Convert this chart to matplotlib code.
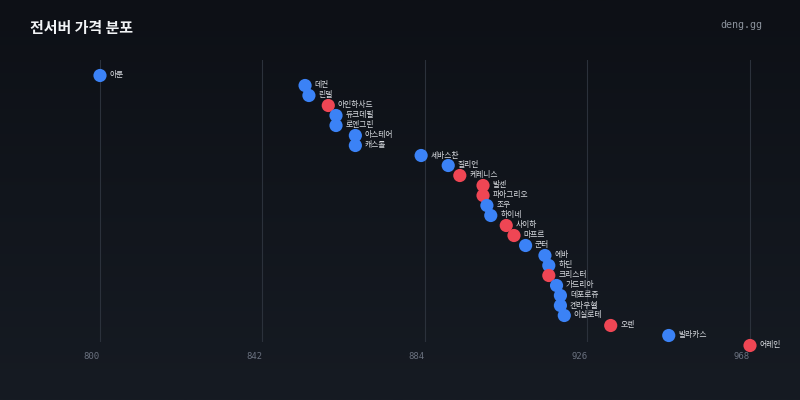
import numpy as np
import matplotlib
matplotlib.use("Agg")
import matplotlib.pyplot as plt

plt.rcParams['font.family'] = ['Noto Sans CJK KR', 'DejaVu Sans']

servers = ["아툰", "데컨", "린델", "아인하사드", "듀크데필", "로엔그린", "아스테어", "캐스톨",
           "세바스찬", "질리언", "케레니스", "발센", "파아그리오", "조우", "하이네", "사이하",
           "마프르", "군터", "에바", "하딘", "크리스터", "가드리아", "데포로쥬", "켄라우헬",
           "이실로테", "오렌", "발라카스", "어레인"]
prices = [800, 853, 854, 859, 861, 861, 866, 866,
          883, 890, 893, 899, 899, 900, 901, 905,
          907, 910, 915, 916, 916, 918, 919, 919,
          920, 932, 947, 968]
groups = ["b", "b", "b", "r", "b", "b", "b", "b",
          "b", "b", "r", "r", "r", "b", "b", "r",
          "r", "b", "b", "b", "r", "b", "b", "b",
          "b", "r", "b", "r"]
ticks = [800, 842, 884, 926, 968]

color_map = {"b": "#3b82f6", "r": "#ef4654"}

W, H = 800, 400
fig = plt.figure(figsize=(8, 4), dpi=100)

# background gradient
bg = fig.add_axes([0, 0, 1, 1])
grad = np.linspace(0, 1, 256).reshape(-1, 1)
top = np.array([13, 16, 22]) / 255
bot = np.array([22, 27, 35]) / 255
img = top + (bot - top) * grad[:, :, None]
bg.imshow(img, aspect='auto', extent=[0, 1, 0, 1], origin='upper')
bg.set_axis_off()

# axes: px 60..780 horizontally, 60..342 vertically
ax_left, ax_right = 60, 780
ax_top, ax_bot = 60, 342
ax = fig.add_axes([ax_left / W, 1 - ax_bot / H, (ax_right - ax_left) / W, (ax_bot - ax_top) / H])
ax.set_facecolor('none')
scale = 650 / 168.0
xmin = 800 - (100 - ax_left) / scale
xmax = xmin + (ax_right - ax_left) / scale
ax.set_xlim(xmin, xmax)
# index i at y = 75.5 + 10 i
ymin_idx = (ax_top - 75.5) / 10.0
ymax_idx = (ax_bot - 75.5) / 10.0
ax.set_ylim(ymax_idx, ymin_idx)

for s in ax.spines.values():
    s.set_visible(False)
ax.set_yticks([])
ax.set_xticks(ticks)
ax.set_xticklabels([str(t) for t in ticks], family='DejaVu Sans Mono', fontsize=6.4, color='#6b7280')
for lbl in ax.get_xticklabels():
    lbl.set_horizontalalignment('right')
ax.tick_params(axis='x', length=0, pad=7.5)
ax.grid(axis='x', color='#2b313b', linewidth=0.8)
ax.set_axisbelow(True)

idx = np.arange(len(prices))
cols = [color_map[g] for g in groups]
ax.scatter(prices, idx, s=90, c=cols, edgecolors='none', zorder=3, clip_on=False)
for i, (name, p) in enumerate(zip(servers, prices)):
    ax.annotate(name, (p, i), xytext=(9.5, 0), textcoords='offset pixels',
                fontsize=5.6, color='#d8dbe0', va='center', ha='left',
                annotation_clip=False, zorder=4)

fig.text(30 / W, 1 - 28 / H, "전서버 가격 분포", fontsize=10.8, fontweight='bold',
         color='#f1f3f5', va='center', ha='left')
fig.text(762 / W, 1 - 25 / H, "deng.gg", family='DejaVu Sans Mono', fontsize=7.2,
         color='#8b929c', va='center', ha='right')

fig.savefig("out.png", dpi=100)
